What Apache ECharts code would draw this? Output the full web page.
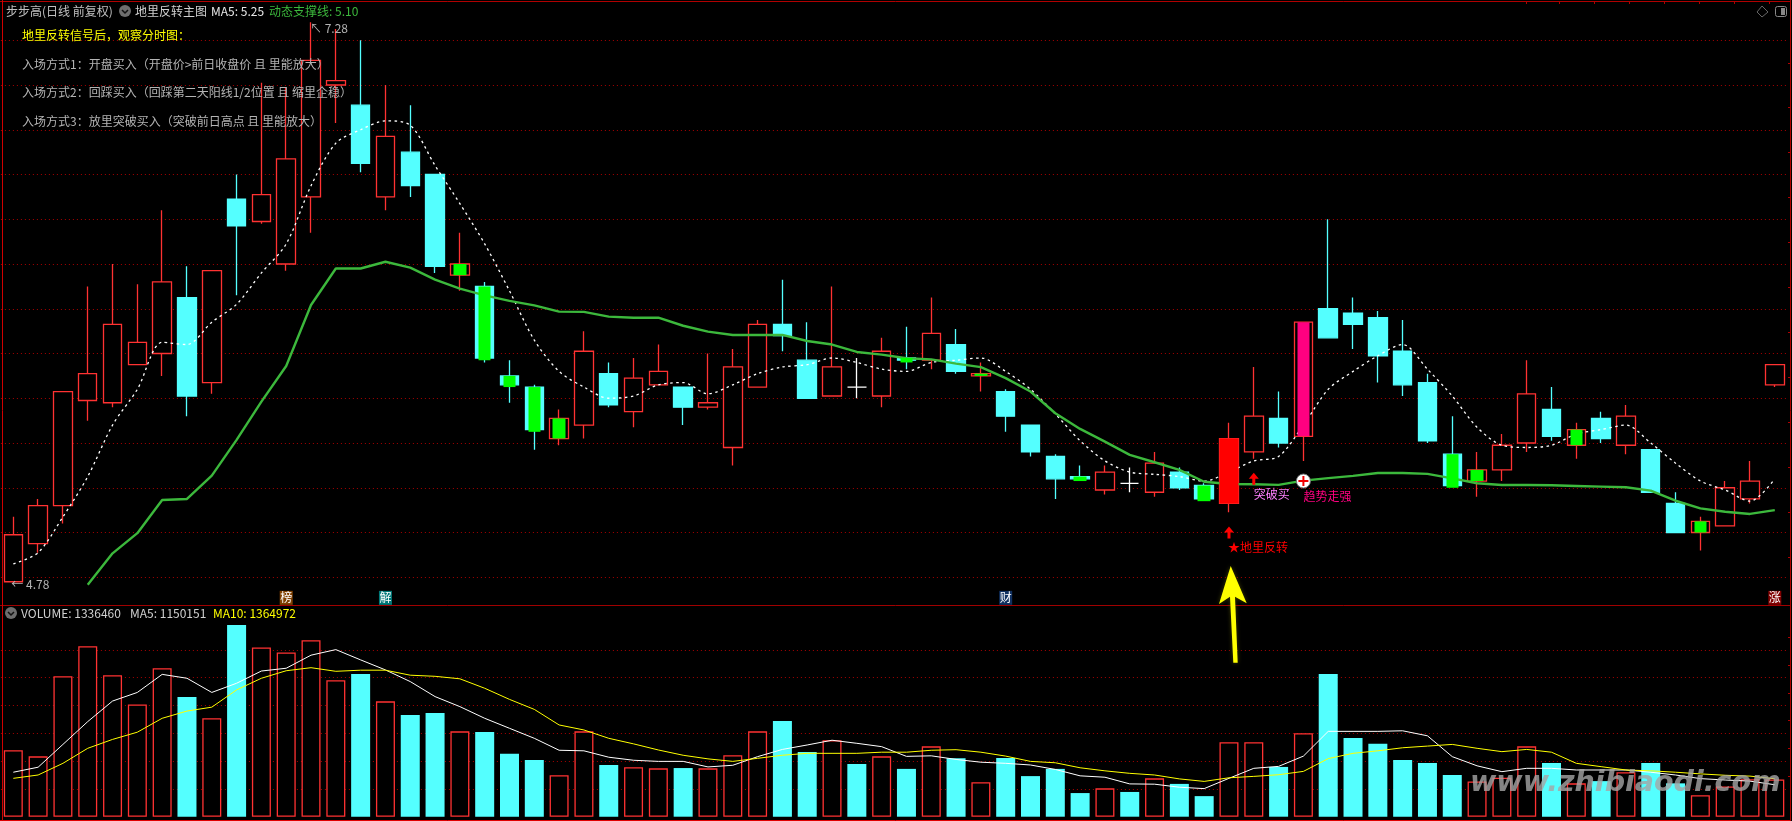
<!DOCTYPE html>
<html>
<head>
<meta charset="utf-8">
<title>地里反转主图</title>
<style>
    html, body { margin: 0; padding: 0; background: #000; }
    #main { width: 1792px; height: 821px; }
</style>
<script src="https://cdn.jsdelivr.net/npm/echarts@6/dist/echarts.min.js"></script>
</head>
<body>
<div id="main"></div>
<script>
// K线数据
var opens = [4.78,4.95,5.12,5.59,5.58,5.75,5.80,6.05,5.67,6.49,
    6.39,6.20,6.50,7.00,6.91,6.50,6.70,6.60,6.15,6.10,
    5.70,5.65,5.42,5.48,5.71,5.54,5.66,5.65,5.56,5.38,
    5.65,5.93,5.77,5.61,5.65,5.61,5.78,5.77,5.84,5.70,
    5.63,5.48,5.34,5.25,5.19,5.22,5.18,5.27,5.21,5.13,
    5.36,5.51,5.43,6.00,5.98,5.96,5.81,5.67,5.35,5.23,
    5.28,5.40,5.55,5.39,5.51,5.39,5.37,5.13,5.00,5.03,
    5.15,5.66];
var closes = [4.99,5.12,5.63,5.71,5.93,5.85,6.12,5.61,6.17,6.37,
    6.51,6.67,7.11,7.02,6.65,6.77,6.55,6.19,6.20,5.78,
    5.66,5.46,5.51,5.81,5.57,5.69,5.72,5.56,5.58,5.74,
    5.93,5.88,5.60,5.74,5.65,5.81,5.77,5.89,5.72,5.71,
    5.52,5.36,5.24,5.24,5.27,5.22,5.31,5.20,5.15,5.42,
    5.52,5.40,5.94,5.87,5.93,5.79,5.66,5.41,5.21,5.28,
    5.39,5.62,5.43,5.46,5.42,5.52,5.18,5.00,5.05,5.20,
    5.23,5.75];
var lows = [4.78,4.91,5.04,5.50,5.56,5.75,5.70,5.52,5.62,6.06,
    6.38,6.17,6.34,6.83,6.61,6.44,6.50,6.16,6.08,5.76,
    5.58,5.37,5.39,5.42,5.56,5.47,5.66,5.48,5.55,5.30,
    5.65,5.81,5.60,5.61,5.60,5.56,5.73,5.73,5.71,5.63,
    5.45,5.34,5.15,5.24,5.17,5.18,5.16,5.19,5.15,5.09,
    5.33,5.38,5.32,5.87,5.82,5.67,5.61,5.40,5.21,5.16,
    5.23,5.36,5.41,5.33,5.40,5.35,5.18,5.00,4.92,5.03,
    5.13,5.65];
var highs = [5.07,5.15,5.63,6.10,6.20,6.11,6.44,6.19,6.17,6.60,
    7.01,6.99,7.28,7.25,7.20,7.00,6.91,6.60,6.34,6.12,
    5.77,5.66,5.55,5.90,5.76,5.78,5.84,5.65,5.80,5.82,
    5.95,6.13,5.94,6.10,5.78,5.87,5.92,6.05,5.91,5.76,
    5.64,5.48,5.35,5.30,5.30,5.29,5.36,5.29,5.22,5.49,
    5.74,5.63,5.94,6.40,6.05,5.99,5.95,5.71,5.52,5.36,
    5.44,5.77,5.65,5.49,5.54,5.57,5.37,5.18,5.07,5.23,
    5.32,5.75];

// MA5 虚线
var ma5 = [4.86,4.91,5.07,5.25,5.48,5.64,5.85,5.84,5.94,6.02,
    6.16,6.29,6.55,6.74,6.80,6.84,6.82,6.64,6.47,6.29,
    6.08,5.86,5.72,5.65,5.60,5.61,5.66,5.67,5.62,5.66,
    5.71,5.74,5.75,5.78,5.76,5.73,5.72,5.76,5.77,5.78,
    5.72,5.64,5.53,5.41,5.32,5.27,5.26,5.25,5.23,5.27,
    5.32,5.34,5.48,5.64,5.72,5.79,5.84,5.73,5.61,5.47,
    5.39,5.38,5.39,5.44,5.46,5.48,5.40,5.31,5.23,5.19,
    5.14,5.24];

// 动态支撑线, 前三天没有值
var support = ['-','-','-',4.766,4.907,4.997,5.145,5.15,5.254,5.414,
    5.585,5.744,6.017,6.18,6.18,6.21,6.184,6.13,6.09,6.06,
    6.035,6.015,5.987,5.986,5.965,5.96,5.96,5.924,5.898,5.883,
    5.883,5.883,5.856,5.84,5.807,5.795,5.779,5.774,5.755,5.739,
    5.69,5.63,5.533,5.463,5.406,5.347,5.314,5.28,5.227,5.217,
    5.216,5.213,5.232,5.243,5.253,5.266,5.266,5.262,5.242,5.22,
    5.212,5.212,5.211,5.208,5.205,5.202,5.187,5.142,5.108,5.093,
    5.083,5.10];

// 成交量
var volumes = [2390000,2170000,5050000,6130000,5090000,4040000,5340000,4310000,3540000,6900000,
    6090000,5910000,6350000,4910000,5130000,4150000,3660000,3730000,3070000,3050000,
    2260000,2040000,1490000,3070000,1860000,1780000,1740000,1750000,1740000,2210000,
    3070000,3440000,2330000,2750000,1900000,2170000,1720000,2530000,2100000,1240000,
    2110000,1460000,1720000,850000,1020000,890000,1380000,1180000,740000,2680000,
    2680000,1790000,3000000,5130000,2830000,2620000,2040000,1930000,1500000,1270000,
    1400000,2530000,1930000,1200000,1280000,1600000,1930000,1200000,770000,1090000,
    1350000,1336460];
var volMa5 = [1600000,1780000,2600000,3420000,4160000,4470000,5120000,4980000,4470000,4800000,
    5240000,5340000,5810000,6010000,5640000,5280000,4860000,4320000,3960000,3540000,
    3180000,2820000,2390000,2370000,2140000,2030000,1990000,1990000,1790000,1850000,
    2160000,2420000,2580000,2750000,2640000,2520000,2170000,2190000,2060000,1960000,
    1920000,1860000,1700000,1470000,1420000,1180000,1170000,1060000,1010000,1380000,
    1740000,1810000,2180000,3070000,3070000,3070000,3090000,2910000,2160000,1830000,
    1620000,1740000,1740000,1680000,1680000,1680000,1600000,1500000,1370000,1320000,
    1280000,1150151];
var volMa10 = [1380000,1500000,1920000,2460000,2780000,3040000,3540000,3800000,3940000,4560000,
    4980000,5250000,5360000,5230000,5270000,5270000,5090000,5050000,4960000,4620000,
    4220000,3860000,3300000,3120000,2820000,2620000,2400000,2210000,2080000,1990000,
    2100000,2210000,2280000,2280000,2280000,2320000,2320000,2390000,2410000,2320000,
    2180000,1990000,1940000,1760000,1650000,1560000,1500000,1360000,1270000,1400000,
    1450000,1510000,1630000,2090000,2280000,2370000,2480000,2540000,2600000,2460000,
    2340000,2420000,2320000,1920000,1800000,1680000,1650000,1600000,1540000,1490000,
    1460000,1364972];

// 信号K线 [序号, 开, 收]
var greenBars = [[18,6.15,6.20],[19,6.10,5.77],[20,5.70,5.65],[21,5.65,5.45],[22,5.42,5.51],
    [36,5.78,5.76],[39,5.70,5.71],[43,5.25,5.23],[48,5.21,5.14],[58,5.35,5.20],
    [59,5.23,5.28],[63,5.39,5.46],[68,5.00,5.05]];
var pinkBars = [[52,5.43,5.94]];
var redBars = [[49,5.13,5.42]];

// 网格线数值
var priceTicks = [4.8,5.0,5.2,5.4,5.6,5.8,6.0,6.2,6.4,6.6,6.8,7.0,7.2];
var volumeTicks = [1000000,2000000,3000000,4000000,5000000,6000000];

var days = opens.map(function (v, i) { return String(i + 1); });

var RED = '#ff3232', CYAN = '#54ffff', GREEN = '#3cb83c';
var FONT = '"Noto Sans CJK SC"';

function chartShow() {
    var myChart = echarts.init(document.getElementById('main'));

    var kData = opens.map(function (o, i) {
        return [o, closes[i], lows[i], highs[i]];
    });

    var volData = volumes.map(function (v, i) {
        var up = closes[i] > opens[i];
        return {
            value: v,
            itemStyle: up
                ? {color: '#000', borderColor: RED, borderWidth: 1.3}
                : {color: CYAN, borderWidth: 0}
        };
    });

    var option = {
        backgroundColor: '#000',
        animation: false,
        textStyle: {fontFamily: FONT},
        grid: [
            {left: 0.9, width: 1786.3, top: 2, height: 603},
            {left: 0.9, width: 1786.3, top: 606, height: 210.7}
        ],
        xAxis: [
            {type: 'category', gridIndex: 0, data: days, axisLine: {show: false}, axisTick: {show: false}, axisLabel: {show: false}, splitLine: {show: false}},
            {type: 'category', gridIndex: 1, data: days, axisLine: {show: false}, axisTick: {show: false}, axisLabel: {show: false}, splitLine: {show: false}}
        ],
        yAxis: [
            {
                type: 'value', gridIndex: 0, min: 4.676, max: 7.371,
                axisLine: {show: false},
                axisTick: {show: false, customValues: priceTicks},
                axisLabel: {show: false},
                splitLine: {show: true, lineStyle: {color: '#a80000', width: 1, type: [1, 3]}}
            },
            {
                type: 'value', gridIndex: 1, min: 0, max: 7579000,
                axisLine: {show: false},
                axisTick: {show: false, customValues: volumeTicks},
                axisLabel: {show: false},
                splitLine: {show: true, lineStyle: {color: '#a80000', width: 1, type: [1, 3]}}
            }
        ],
        series: [
            {
                name: 'K线', type: 'candlestick', xAxisIndex: 0, yAxisIndex: 0,
                barWidth: 19, z: 2,
                data: kData,
                itemStyle: {
                    color: '#000', color0: CYAN,
                    borderColor: RED, borderColor0: CYAN, borderColorDoji: '#fff',
                    borderWidth: 1.3
                },
                markPoint: {
                    animation: false,
                    z: 8,
                    data: marks()
                }
            },
            {
                name: 'MA5', type: 'line', xAxisIndex: 0, yAxisIndex: 0, z: 3,
                data: ma5, showSymbol: false, symbol: 'none', smooth: 0.3,
                lineStyle: {color: '#fff', width: 1.3, type: [2.5, 3.5]}
            },
            {
                name: '动态支撑线', type: 'line', xAxisIndex: 0, yAxisIndex: 0, z: 3,
                data: support, showSymbol: false, symbol: 'none',
                lineStyle: {color: GREEN, width: 2.4}
            },
            fillBars('绿柱', greenBars, '#00ff00', 13),
            fillBars('粉柱', pinkBars, '#ff0080', 13),
            fillBars('红柱', redBars, '#ff0000', 19),
            {
                name: 'VOLUME', type: 'bar', xAxisIndex: 1, yAxisIndex: 1, z: 2,
                barWidth: 19, data: volData
            },
            {
                name: 'VOL MA5', type: 'line', xAxisIndex: 1, yAxisIndex: 1, z: 3,
                data: volMa5, showSymbol: false, symbol: 'none',
                lineStyle: {color: '#fff', width: 1}
            },
            {
                name: 'VOL MA10', type: 'line', xAxisIndex: 1, yAxisIndex: 1, z: 3,
                data: volMa10, showSymbol: false, symbol: 'none',
                lineStyle: {color: '#ffff00', width: 1}
            }
        ],
        graphic: decorations()
    };
    myChart.setOption(option);
}

// 实心信号柱, 盖在均线上面
function fillBars(name, list, color, width) {
    return {
        name: name, type: 'candlestick', xAxisIndex: 0, yAxisIndex: 0, z: 4,
        barWidth: width,
        encode: {x: 0, y: [1, 2, 3, 4]},
        data: list.map(function (b) {
            return [b[0], b[1], b[2], Math.min(b[1], b[2]), Math.max(b[1], b[2])];
        }),
        itemStyle: {color: color, color0: color, borderColor: color, borderColor0: color, borderWidth: 0}
    };
}

// 价格标注和信号文字
function marks() {
    var arrow = 'path://M5 0 L10 6 L6.5 6 L6.5 12 L3.5 12 L3.5 6 L0 6 Z';
    var plus = 'path://M4 0 L6 0 L6 4 L10 4 L10 6 L6 6 L6 10 L4 10 L4 6 L0 6 L0 4 L4 4 Z';

    function tag(text, idx, bg) {
        return {
            coord: [idx, 4.708], symbol: 'rect', symbolSize: [13, 14],
            itemStyle: {color: bg},
            label: {show: true, position: 'inside', formatter: text, color: '#fff', fontSize: 12, fontFamily: FONT}
        };
    }
    function text(str, idx, price, color, dx) {
        return {
            coord: [idx, price], symbol: 'circle', symbolSize: 0.1,
            label: {show: true, position: 'inside', offset: [dx, 0], formatter: str, color: color, fontSize: 12, fontFamily: FONT}
        };
    }
    return [
        text('↖ 7.28', 12, 7.255, '#b4b4b4', 18),
        text('← 4.78', 0, 4.77, '#b4b4b4', 17),
        {coord: [49, 5.00], symbol: arrow, symbolSize: [10, 12], itemStyle: {color: '#ff0000'}},
        text('★地里反转', 49, 4.935, '#ff0000', 29),
        {coord: [50, 5.24], symbol: arrow, symbolSize: [10, 12], itemStyle: {color: '#ff0000'}},
        text('突破买', 50, 5.168, '#ff80ff', 18),
        {coord: [52, 5.23], symbol: 'circle', symbolSize: 14, itemStyle: {color: '#fff', borderColor: '#777', borderWidth: 1}},
        {coord: [52, 5.23], symbol: plus, symbolSize: [10, 10], itemStyle: {color: '#f00000'}},
        text('趋势走强', 52, 5.16, '#ff0080', 24),
        tag('榜', 11, '#804000'),
        tag('解', 15, '#007878'),
        tag('财', 40, '#103060'),
        tag('涨', 71, '#800000')
    ];
}

// 边框, 标题文字, 水印, 大箭头
function decorations() {
    var els = [];

    function hline(y, color, x1, x2) {
        els.push({type: 'line', silent: true, z: 20, shape: {x1: x1 || 0, y1: y, x2: x2 || 1791, y2: y}, style: {stroke: color, lineWidth: 1}});
    }
    function vline(x, y1, y2, color) {
        els.push({type: 'line', silent: true, z: 20, shape: {x1: x, y1: y1, x2: x, y2: y2}, style: {stroke: color, lineWidth: 1}});
    }
    function txt(str, x, y, color, size) {
        els.push({type: 'text', silent: true, z: 30, x: x, y: y, style: {text: str, fill: color, font: (size || 12) + 'px ' + FONT, verticalAlign: 'middle'}});
    }
    function chevronBtn(cx, cy) {
        els.push({type: 'circle', silent: true, z: 30, shape: {cx: cx, cy: cy, r: 6}, style: {fill: '#6e6e6e'}});
        els.push({type: 'polyline', silent: true, z: 31, shape: {points: [[cx - 3, cy - 1], [cx, cy + 2], [cx + 3, cy - 1]]}, style: {stroke: '#111', fill: null, lineWidth: 1.5}});
    }

    // 边框
    hline(1.5, '#b00000');
    hline(605.5, '#a00000');
    hline(820.5, '#e00000');
    vline(2.5, 0, 821, '#d00000');
    vline(1790.5, 0, 821, '#b00000');

    // 右边框和顶边的小刻度
    [63, 107, 152, 197, 242, 287, 332, 377, 422, 467, 512, 557, 637, 665, 693, 720, 748, 776].forEach(function (y) {
        els.push({type: 'line', silent: true, z: 20, shape: {x1: 1788, y1: y + 0.5, x2: 1790, y2: y + 0.5}, style: {stroke: '#b00000', lineWidth: 1}});
    });
    [1526, 1559, 1594, 1629, 1664, 1699, 1734, 1769].forEach(function (x) {
        els.push({type: 'line', silent: true, z: 20, shape: {x1: x + 0.5, y1: 2, x2: x + 0.5, y2: 4}, style: {stroke: '#b00000', lineWidth: 1}});
    });

    // 主图标题
    txt('步步高(日线 前复权)', 6, 11, '#c0c0c0');
    chevronBtn(125, 11);
    txt('地里反转主图', 135, 11, '#d0d0d0');
    txt('MA5: 5.25', 211, 11, '#e8e8e8');
    txt('动态支撑线: 5.10', 269, 11, GREEN);

    // 说明文字
    txt('地里反转信号后，观察分时图：', 22, 35, '#ffff00');
    txt('入场方式1：开盘买入（开盘价>前日收盘价 且 里能放大）', 22, 64, '#b4b4b4');
    txt('入场方式2：回踩买入（回踩第二天阳线1/2位置 且 缩里企稳）', 22, 92, '#b4b4b4');
    txt('入场方式3：放里突破买入（突破前日高点 且 里能放大）', 22, 121, '#b4b4b4');

    // 副图标题
    chevronBtn(11, 613);
    txt('VOLUME: 1336460', 21, 613, '#d0d0d0');
    txt('MA5: 1150151', 130, 613, '#d0d0d0');
    txt('MA10: 1364972', 213, 613, '#ffff00');

    // 右上角按钮
    els.push({type: 'polygon', silent: true, z: 30, shape: {points: [[1762, 6], [1768, 12], [1762, 17], [1757, 12]]}, style: {stroke: '#666', fill: null, lineWidth: 1}});
    els.push({type: 'rect', silent: true, z: 30, shape: {x: 1775.5, y: 6.5, width: 11, height: 10, r: 2}, style: {stroke: '#888', fill: null, lineWidth: 1}});
    els.push({type: 'rect', silent: true, z: 30, shape: {x: 1781, y: 8, width: 4, height: 7}, style: {fill: '#888'}});

    // 黄色大箭头
    els.push({
        type: 'polygon', silent: true, z: 40,
        shape: {points: [[1230.7, 566], [1246.7, 603.3], [1235, 596.7], [1237.7, 662.7], [1233.3, 662.7], [1230, 596.7], [1219, 604]]},
        style: {fill: '#ffff00', shadowBlur: 4, shadowColor: 'rgba(80,80,0,0.8)'}
    });

    // 水印
    els.push({
        type: 'text', silent: true, z: 50, x: 1470, y: 784,
        style: {
            text: 'www.zhibiaodi.com', fill: 'rgba(165,165,165,0.8)',
            font: 'italic bold 28.5px "DejaVu Sans"', verticalAlign: 'middle',
            shadowBlur: 6, shadowColor: '#000', shadowOffsetY: 3
        }
    });
    return els;
}

chartShow();
</script>
</body>
</html>
